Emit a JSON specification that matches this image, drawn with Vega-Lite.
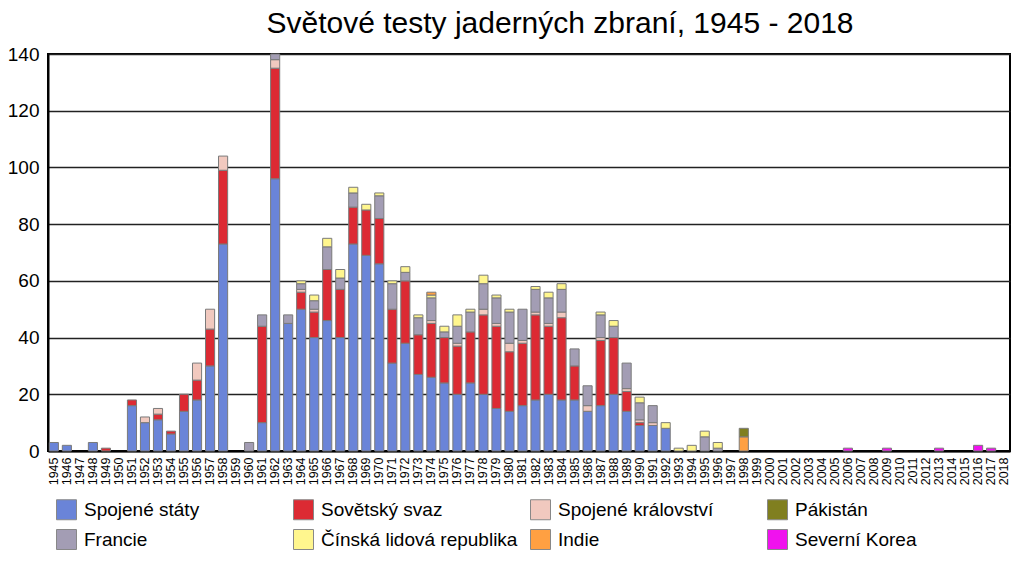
{
  "$schema": "https://vega.github.io/schema/vega-lite/v6.json",
  "width": 962,
  "height": 397,
  "autosize": {"type": "none"},
  "padding": {"left": 48, "top": 54, "right": 14, "bottom": 124},
  "background": "white",
  "title": {
    "text": "Světové testy jaderných zbraní, 1945 - 2018",
    "anchor": "middle",
    "dx": 31,
    "offset": 6,
    "fontSize": 30,
    "fontWeight": "normal",
    "font": "Liberation Sans",
    "color": "black"
  },
  "data": {
    "values": [
      {"rok": "1945", "stat": "Spojené státy", "pocet": 3},
      {"rok": "1946", "stat": "Spojené státy", "pocet": 2},
      {"rok": "1948", "stat": "Spojené státy", "pocet": 3},
      {"rok": "1949", "stat": "Sovětský svaz", "pocet": 1},
      {"rok": "1951", "stat": "Spojené státy", "pocet": 16},
      {"rok": "1951", "stat": "Sovětský svaz", "pocet": 2},
      {"rok": "1952", "stat": "Spojené státy", "pocet": 10},
      {"rok": "1952", "stat": "Spojené království", "pocet": 2},
      {"rok": "1953", "stat": "Spojené státy", "pocet": 11},
      {"rok": "1953", "stat": "Sovětský svaz", "pocet": 2},
      {"rok": "1953", "stat": "Spojené království", "pocet": 2},
      {"rok": "1954", "stat": "Spojené státy", "pocet": 6},
      {"rok": "1954", "stat": "Sovětský svaz", "pocet": 1},
      {"rok": "1955", "stat": "Spojené státy", "pocet": 14},
      {"rok": "1955", "stat": "Sovětský svaz", "pocet": 6},
      {"rok": "1956", "stat": "Spojené státy", "pocet": 18},
      {"rok": "1956", "stat": "Sovětský svaz", "pocet": 7},
      {"rok": "1956", "stat": "Spojené království", "pocet": 6},
      {"rok": "1957", "stat": "Spojené státy", "pocet": 30},
      {"rok": "1957", "stat": "Sovětský svaz", "pocet": 13},
      {"rok": "1957", "stat": "Spojené království", "pocet": 7},
      {"rok": "1958", "stat": "Spojené státy", "pocet": 73},
      {"rok": "1958", "stat": "Sovětský svaz", "pocet": 26},
      {"rok": "1958", "stat": "Spojené království", "pocet": 5},
      {"rok": "1960", "stat": "Francie", "pocet": 3},
      {"rok": "1961", "stat": "Spojené státy", "pocet": 10},
      {"rok": "1961", "stat": "Sovětský svaz", "pocet": 34},
      {"rok": "1961", "stat": "Francie", "pocet": 4},
      {"rok": "1962", "stat": "Spojené státy", "pocet": 96},
      {"rok": "1962", "stat": "Sovětský svaz", "pocet": 39},
      {"rok": "1962", "stat": "Spojené království", "pocet": 3},
      {"rok": "1962", "stat": "Francie", "pocet": 2},
      {"rok": "1963", "stat": "Spojené státy", "pocet": 45},
      {"rok": "1963", "stat": "Francie", "pocet": 3},
      {"rok": "1964", "stat": "Spojené státy", "pocet": 50},
      {"rok": "1964", "stat": "Sovětský svaz", "pocet": 6},
      {"rok": "1964", "stat": "Spojené království", "pocet": 1},
      {"rok": "1964", "stat": "Francie", "pocet": 2},
      {"rok": "1964", "stat": "Čínská lidová republika", "pocet": 1},
      {"rok": "1965", "stat": "Spojené státy", "pocet": 40},
      {"rok": "1965", "stat": "Sovětský svaz", "pocet": 9},
      {"rok": "1965", "stat": "Spojené království", "pocet": 1},
      {"rok": "1965", "stat": "Francie", "pocet": 3},
      {"rok": "1965", "stat": "Čínská lidová republika", "pocet": 2},
      {"rok": "1966", "stat": "Spojené státy", "pocet": 46},
      {"rok": "1966", "stat": "Sovětský svaz", "pocet": 18},
      {"rok": "1966", "stat": "Francie", "pocet": 8},
      {"rok": "1966", "stat": "Čínská lidová republika", "pocet": 3},
      {"rok": "1967", "stat": "Spojené státy", "pocet": 40},
      {"rok": "1967", "stat": "Sovětský svaz", "pocet": 17},
      {"rok": "1967", "stat": "Francie", "pocet": 4},
      {"rok": "1967", "stat": "Čínská lidová republika", "pocet": 3},
      {"rok": "1968", "stat": "Spojené státy", "pocet": 73},
      {"rok": "1968", "stat": "Sovětský svaz", "pocet": 13},
      {"rok": "1968", "stat": "Francie", "pocet": 5},
      {"rok": "1968", "stat": "Čínská lidová republika", "pocet": 2},
      {"rok": "1969", "stat": "Spojené státy", "pocet": 69},
      {"rok": "1969", "stat": "Sovětský svaz", "pocet": 16},
      {"rok": "1969", "stat": "Čínská lidová republika", "pocet": 2},
      {"rok": "1970", "stat": "Spojené státy", "pocet": 66},
      {"rok": "1970", "stat": "Sovětský svaz", "pocet": 16},
      {"rok": "1970", "stat": "Francie", "pocet": 8},
      {"rok": "1970", "stat": "Čínská lidová republika", "pocet": 1},
      {"rok": "1971", "stat": "Spojené státy", "pocet": 31},
      {"rok": "1971", "stat": "Sovětský svaz", "pocet": 19},
      {"rok": "1971", "stat": "Francie", "pocet": 9},
      {"rok": "1971", "stat": "Čínská lidová republika", "pocet": 1},
      {"rok": "1972", "stat": "Spojené státy", "pocet": 38},
      {"rok": "1972", "stat": "Sovětský svaz", "pocet": 22},
      {"rok": "1972", "stat": "Francie", "pocet": 3},
      {"rok": "1972", "stat": "Čínská lidová republika", "pocet": 2},
      {"rok": "1973", "stat": "Spojené státy", "pocet": 27},
      {"rok": "1973", "stat": "Sovětský svaz", "pocet": 14},
      {"rok": "1973", "stat": "Francie", "pocet": 6},
      {"rok": "1973", "stat": "Čínská lidová republika", "pocet": 1},
      {"rok": "1974", "stat": "Spojené státy", "pocet": 26},
      {"rok": "1974", "stat": "Sovětský svaz", "pocet": 19},
      {"rok": "1974", "stat": "Spojené království", "pocet": 1},
      {"rok": "1974", "stat": "Francie", "pocet": 8},
      {"rok": "1974", "stat": "Čínská lidová republika", "pocet": 1},
      {"rok": "1974", "stat": "Indie", "pocet": 1},
      {"rok": "1975", "stat": "Spojené státy", "pocet": 24},
      {"rok": "1975", "stat": "Sovětský svaz", "pocet": 16},
      {"rok": "1975", "stat": "Francie", "pocet": 2},
      {"rok": "1975", "stat": "Čínská lidová republika", "pocet": 2},
      {"rok": "1976", "stat": "Spojené státy", "pocet": 20},
      {"rok": "1976", "stat": "Sovětský svaz", "pocet": 17},
      {"rok": "1976", "stat": "Spojené království", "pocet": 1},
      {"rok": "1976", "stat": "Francie", "pocet": 6},
      {"rok": "1976", "stat": "Čínská lidová republika", "pocet": 4},
      {"rok": "1977", "stat": "Spojené státy", "pocet": 24},
      {"rok": "1977", "stat": "Sovětský svaz", "pocet": 18},
      {"rok": "1977", "stat": "Francie", "pocet": 7},
      {"rok": "1977", "stat": "Čínská lidová republika", "pocet": 1},
      {"rok": "1978", "stat": "Spojené státy", "pocet": 20},
      {"rok": "1978", "stat": "Sovětský svaz", "pocet": 28},
      {"rok": "1978", "stat": "Spojené království", "pocet": 2},
      {"rok": "1978", "stat": "Francie", "pocet": 9},
      {"rok": "1978", "stat": "Čínská lidová republika", "pocet": 3},
      {"rok": "1979", "stat": "Spojené státy", "pocet": 15},
      {"rok": "1979", "stat": "Sovětský svaz", "pocet": 29},
      {"rok": "1979", "stat": "Spojené království", "pocet": 1},
      {"rok": "1979", "stat": "Francie", "pocet": 9},
      {"rok": "1979", "stat": "Čínská lidová republika", "pocet": 1},
      {"rok": "1980", "stat": "Spojené státy", "pocet": 14},
      {"rok": "1980", "stat": "Sovětský svaz", "pocet": 21},
      {"rok": "1980", "stat": "Spojené království", "pocet": 3},
      {"rok": "1980", "stat": "Francie", "pocet": 11},
      {"rok": "1980", "stat": "Čínská lidová republika", "pocet": 1},
      {"rok": "1981", "stat": "Spojené státy", "pocet": 16},
      {"rok": "1981", "stat": "Sovětský svaz", "pocet": 22},
      {"rok": "1981", "stat": "Spojené království", "pocet": 1},
      {"rok": "1981", "stat": "Francie", "pocet": 11},
      {"rok": "1982", "stat": "Spojené státy", "pocet": 18},
      {"rok": "1982", "stat": "Sovětský svaz", "pocet": 30},
      {"rok": "1982", "stat": "Spojené království", "pocet": 1},
      {"rok": "1982", "stat": "Francie", "pocet": 8},
      {"rok": "1982", "stat": "Čínská lidová republika", "pocet": 1},
      {"rok": "1983", "stat": "Spojené státy", "pocet": 20},
      {"rok": "1983", "stat": "Sovětský svaz", "pocet": 24},
      {"rok": "1983", "stat": "Spojené království", "pocet": 1},
      {"rok": "1983", "stat": "Francie", "pocet": 9},
      {"rok": "1983", "stat": "Čínská lidová republika", "pocet": 2},
      {"rok": "1984", "stat": "Spojené státy", "pocet": 18},
      {"rok": "1984", "stat": "Sovětský svaz", "pocet": 29},
      {"rok": "1984", "stat": "Spojené království", "pocet": 2},
      {"rok": "1984", "stat": "Francie", "pocet": 8},
      {"rok": "1984", "stat": "Čínská lidová republika", "pocet": 2},
      {"rok": "1985", "stat": "Spojené státy", "pocet": 18},
      {"rok": "1985", "stat": "Sovětský svaz", "pocet": 12},
      {"rok": "1985", "stat": "Francie", "pocet": 6},
      {"rok": "1986", "stat": "Spojené státy", "pocet": 14},
      {"rok": "1986", "stat": "Spojené království", "pocet": 2},
      {"rok": "1986", "stat": "Francie", "pocet": 7},
      {"rok": "1987", "stat": "Spojené státy", "pocet": 16},
      {"rok": "1987", "stat": "Sovětský svaz", "pocet": 23},
      {"rok": "1987", "stat": "Spojené království", "pocet": 1},
      {"rok": "1987", "stat": "Francie", "pocet": 8},
      {"rok": "1987", "stat": "Čínská lidová republika", "pocet": 1},
      {"rok": "1988", "stat": "Spojené státy", "pocet": 20},
      {"rok": "1988", "stat": "Sovětský svaz", "pocet": 20},
      {"rok": "1988", "stat": "Francie", "pocet": 4},
      {"rok": "1988", "stat": "Čínská lidová republika", "pocet": 2},
      {"rok": "1989", "stat": "Spojené státy", "pocet": 14},
      {"rok": "1989", "stat": "Sovětský svaz", "pocet": 7},
      {"rok": "1989", "stat": "Spojené království", "pocet": 1},
      {"rok": "1989", "stat": "Francie", "pocet": 9},
      {"rok": "1990", "stat": "Spojené státy", "pocet": 9},
      {"rok": "1990", "stat": "Sovětský svaz", "pocet": 1},
      {"rok": "1990", "stat": "Spojené království", "pocet": 1},
      {"rok": "1990", "stat": "Francie", "pocet": 6},
      {"rok": "1990", "stat": "Čínská lidová republika", "pocet": 2},
      {"rok": "1991", "stat": "Spojené státy", "pocet": 9},
      {"rok": "1991", "stat": "Spojené království", "pocet": 1},
      {"rok": "1991", "stat": "Francie", "pocet": 6},
      {"rok": "1992", "stat": "Spojené státy", "pocet": 8},
      {"rok": "1992", "stat": "Čínská lidová republika", "pocet": 2},
      {"rok": "1993", "stat": "Čínská lidová republika", "pocet": 1},
      {"rok": "1994", "stat": "Čínská lidová republika", "pocet": 2},
      {"rok": "1995", "stat": "Francie", "pocet": 5},
      {"rok": "1995", "stat": "Čínská lidová republika", "pocet": 2},
      {"rok": "1996", "stat": "Francie", "pocet": 1},
      {"rok": "1996", "stat": "Čínská lidová republika", "pocet": 2},
      {"rok": "1998", "stat": "Indie", "pocet": 5},
      {"rok": "1998", "stat": "Pákistán", "pocet": 3},
      {"rok": "2006", "stat": "Severní Korea", "pocet": 1},
      {"rok": "2009", "stat": "Severní Korea", "pocet": 1},
      {"rok": "2013", "stat": "Severní Korea", "pocet": 1},
      {"rok": "2016", "stat": "Severní Korea", "pocet": 2},
      {"rok": "2017", "stat": "Severní Korea", "pocet": 1}
    ]
  },
  "transform": [
    {
      "calculate": "indexof(['Spojené státy','Sovětský svaz','Spojené království','Francie','Čínská lidová republika','Indie','Pákistán','Severní Korea'], datum.stat)",
      "as": "poradi"
    }
  ],
  "mark": {"type": "bar", "stroke": "#7a7a7a", "strokeWidth": 1},
  "encoding": {
    "x": {
      "field": "rok",
      "type": "ordinal",
      "scale": {
        "domain": ["1945","1946","1947","1948","1949","1950","1951","1952","1953","1954","1955","1956","1957","1958","1959","1960","1961","1962","1963","1964","1965","1966","1967","1968","1969","1970","1971","1972","1973","1974","1975","1976","1977","1978","1979","1980","1981","1982","1983","1984","1985","1986","1987","1988","1989","1990","1991","1992","1993","1994","1995","1996","1997","1998","1999","2000","2001","2002","2003","2004","2005","2006","2007","2008","2009","2010","2011","2012","2013","2014","2015","2016","2017","2018"],
        "paddingInner": 0.3,
        "paddingOuter": 0.1
      },
      "axis": {
        "title": null,
        "labelAngle": -90,
        "labelFontSize": 12.5,
        "labelFont": "Liberation Sans",
        "labelColor": "black",
        "labelPadding": 6,
        "ticks": false,
        "domainColor": "black",
        "domainWidth": 2
      }
    },
    "y": {
      "field": "pocet",
      "type": "quantitative",
      "aggregate": "sum",
      "stack": "zero",
      "scale": {"domain": [0, 140], "nice": false},
      "axis": {
        "title": null,
        "values": [0, 20, 40, 60, 80, 100, 120, 140],
        "labelFontSize": 19,
        "labelFont": "Liberation Sans",
        "labelColor": "black",
        "labelPadding": 9,
        "ticks": false,
        "domainColor": "black",
        "domainWidth": 2,
        "grid": true,
        "gridColor": "#222222",
        "gridWidth": 1.5,
        "gridOpacity": 1
      }
    },
    "color": {
      "field": "stat",
      "type": "nominal",
      "scale": {
        "domain": ["Spojené státy","Francie","Sovětský svaz","Čínská lidová republika","Spojené království","Indie","Pákistán","Severní Korea"],
        "range": ["#6a84d8","#a39db4","#dc2a33","#fff68e","#f1c9bf","#ffa042","#807f1f","#f012ee"]
      },
      "legend": {
        "title": null,
        "orient": "none",
        "legendX": 8,
        "legendY": 445,
        "columns": 4,
        "gridAlign": "all",
        "columnPadding": 10,
        "rowPadding": 5,
        "padding": 0,
        "symbolType": "square",
        "symbolSize": 400,
        "symbolStrokeColor": "#888888",
        "symbolStrokeWidth": 1,
        "symbolOpacity": 1,
        "labelFontSize": 19,
        "labelFont": "Liberation Sans",
        "labelColor": "black",
        "labelOffset": 7,
        "labelLimit": 400
      }
    },
    "order": {"field": "poradi", "type": "quantitative", "sort": "ascending"}
  },
  "config": {
    "view": {"stroke": "black", "strokeWidth": 2},
    "font": "Liberation Sans"
  }
}
